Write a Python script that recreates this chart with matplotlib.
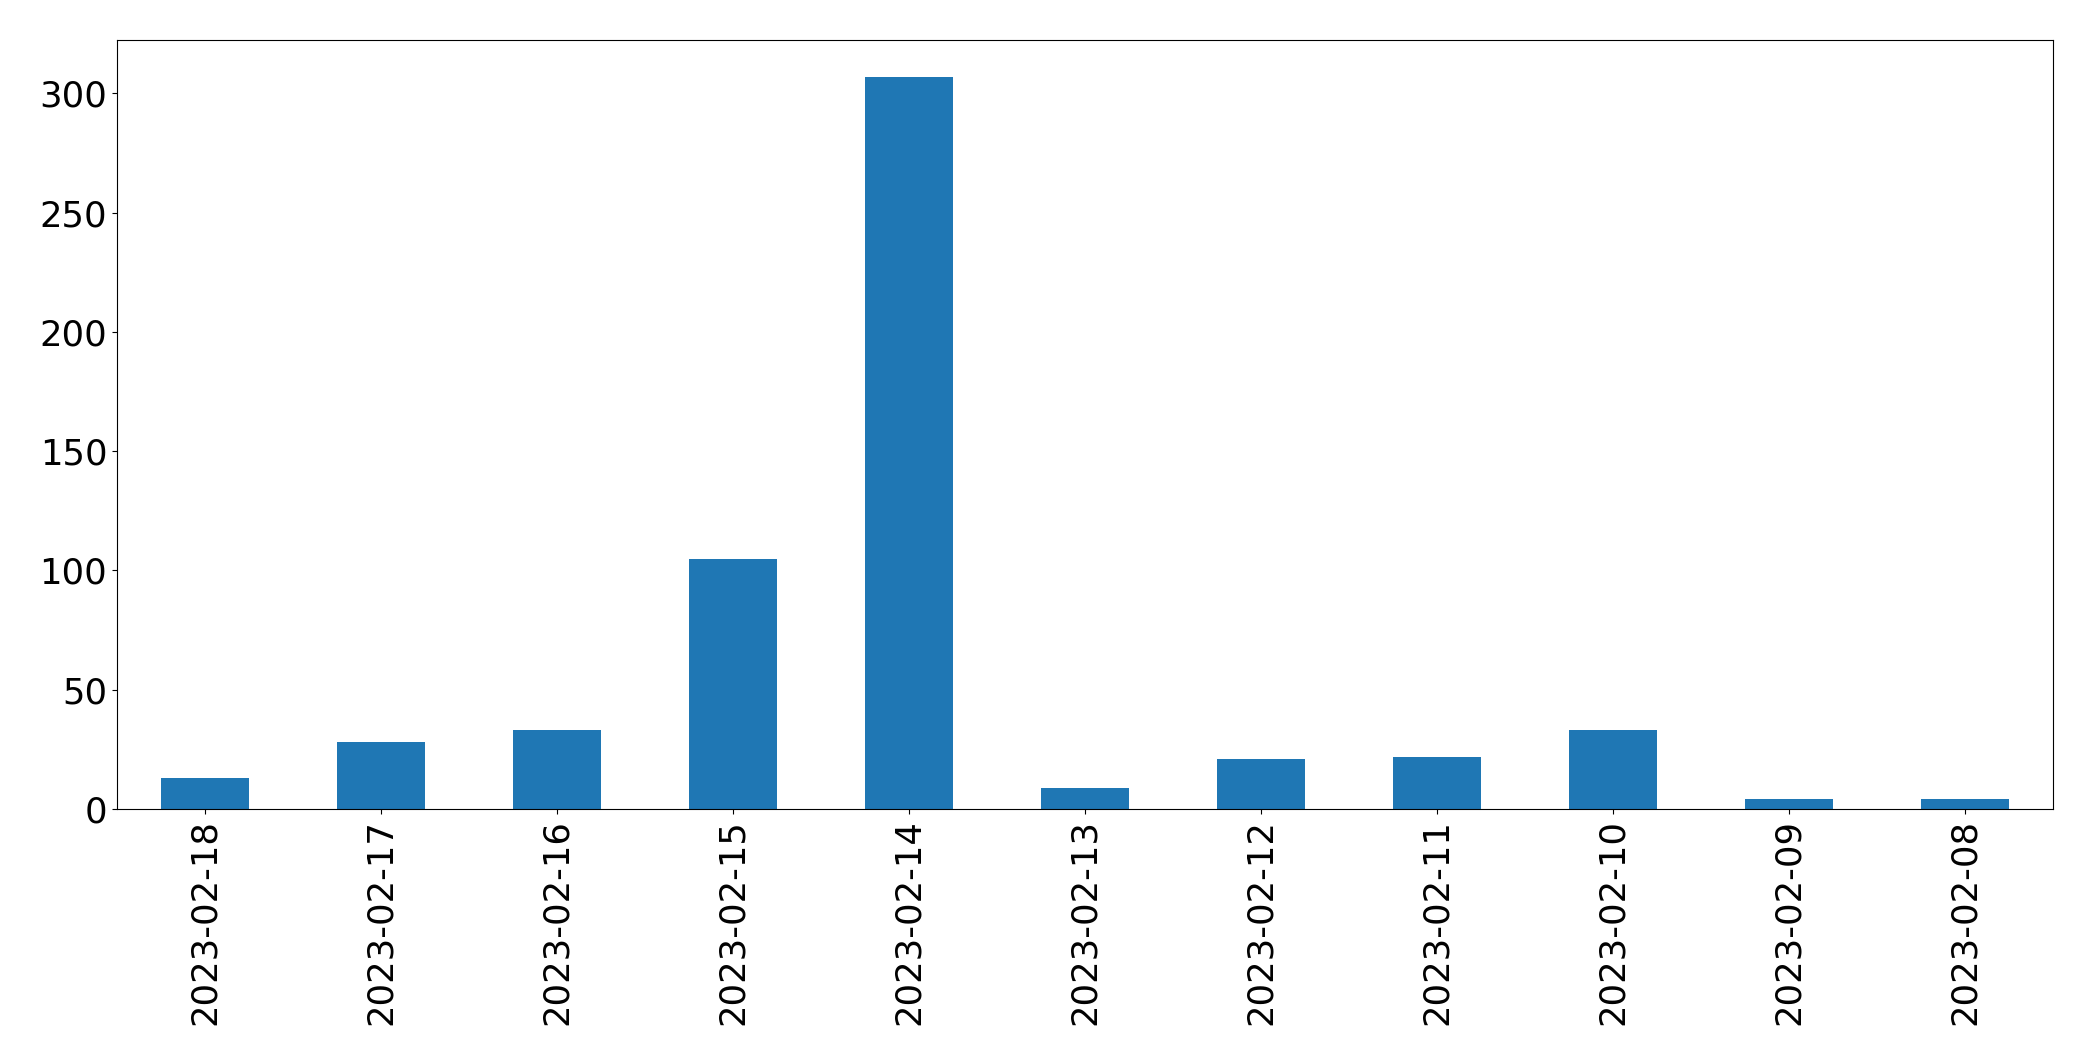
import matplotlib
matplotlib.use("Agg")
import matplotlib.pyplot as plt
import numpy as np

dates = [
    "2023-02-18", "2023-02-17", "2023-02-16", "2023-02-15", "2023-02-14",
    "2023-02-13", "2023-02-12", "2023-02-11", "2023-02-10", "2023-02-09",
    "2023-02-08",
]
counts = [13, 28, 33, 105, 307, 9, 21, 22, 33, 4, 4]

fig = plt.figure(figsize=(20.93, 10.61), dpi=100)
ax = fig.add_axes([117 / 2093, 1 - 809 / 1061, (2053 - 117) / 2093, (809 - 40) / 1061])

x = np.arange(len(dates))
ax.bar(x, counts, width=0.5, color="#1f77b4")
ax.set_xlim(-0.5, len(dates) - 0.5)
ax.set_xticks(x)
ax.set_xticklabels(dates, rotation=90)
ax.tick_params(axis="both", labelsize=25.5)

fig.savefig("out.png", dpi=100)
